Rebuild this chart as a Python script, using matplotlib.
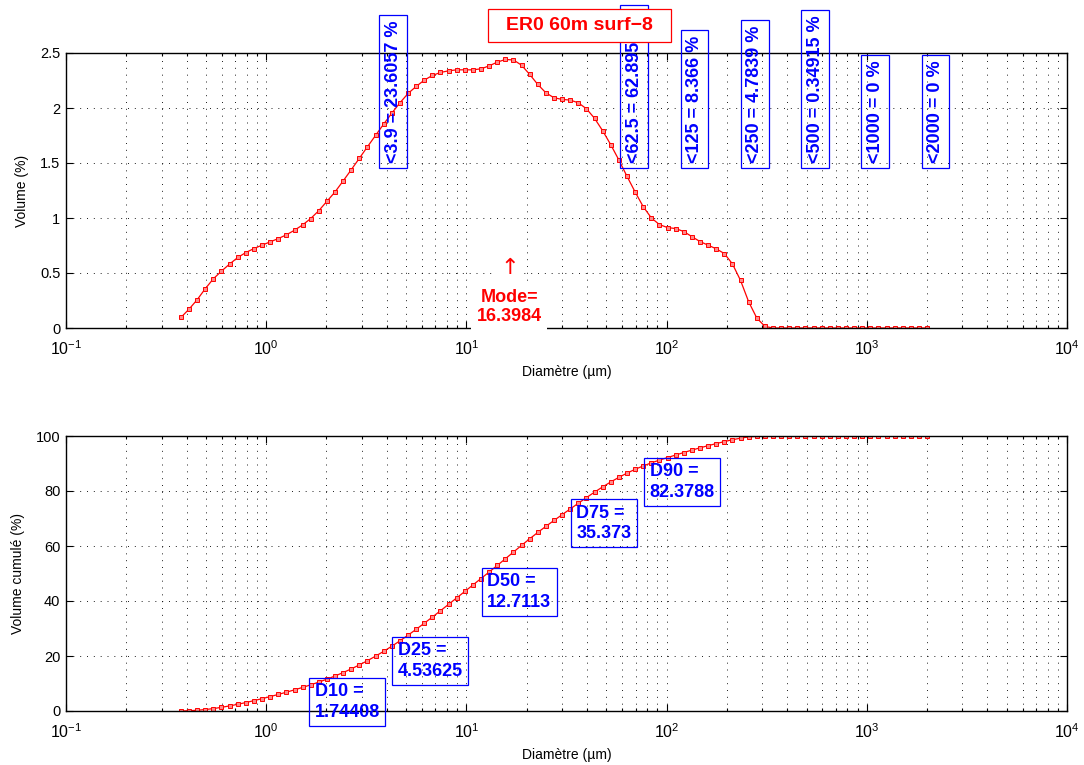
import numpy as np
import matplotlib
matplotlib.use("Agg")
import matplotlib.pyplot as plt
from matplotlib.patches import Rectangle
from matplotlib.ticker import LogLocator, FormatStrFormatter

plt.rcParams['font.family'] = ['Liberation Sans', 'DejaVu Sans']
plt.rcParams['mathtext.fontset'] = 'custom'
plt.rcParams['mathtext.rm'] = 'Liberation Sans'
plt.rcParams['mathtext.it'] = 'Liberation Sans:italic'
plt.rcParams['mathtext.bf'] = 'Liberation Sans:bold'

# --- data ------------------------------------------------------------------
SAMPLE = "ER0 60m surf\u22128"

diam = [0.375, 0.412, 0.452, 0.496, 0.545, 0.598, 0.656, 0.721, 0.791, 0.868,
        0.953, 1.047, 1.149, 1.261, 1.385, 1.520, 1.668, 1.832, 2.011, 2.207,
        2.423, 2.660, 2.920, 3.205, 3.519, 3.863, 4.240, 4.655, 5.110, 5.610,
        6.158, 6.760, 7.421, 8.147, 8.943, 9.818, 10.78, 11.83, 12.99, 14.26,
        15.65, 17.18, 18.86, 20.71, 22.73, 24.95, 27.39, 30.07, 33.01, 36.24,
        39.78, 43.67, 47.94, 52.62, 57.77, 63.41, 69.61, 76.42, 83.89, 92.09,
        101.1, 111.0, 121.8, 133.7, 146.8, 161.2, 176.9, 194.2, 213.2, 234.1,
        256.9, 282.1, 309.6, 339.9, 373.1, 409.6, 449.7, 493.6, 541.9, 594.9,
        653.0, 716.9, 786.9, 863.9, 948.3, 1041, 1143, 1255, 1377, 1512,
        1660, 1822, 2000]

volume = [0.096, 0.172, 0.257, 0.357, 0.448, 0.517, 0.581, 0.641, 0.686, 0.722,
          0.753, 0.783, 0.813, 0.847, 0.889, 0.937, 0.995, 1.067, 1.152, 1.237,
          1.337, 1.439, 1.543, 1.648, 1.751, 1.854, 1.953, 2.047, 2.132, 2.196,
          2.253, 2.296, 2.323, 2.338, 2.347, 2.347, 2.347, 2.356, 2.383, 2.417,
          2.441, 2.437, 2.389, 2.305, 2.214, 2.138, 2.093, 2.078, 2.072, 2.047,
          1.993, 1.906, 1.793, 1.666, 1.527, 1.379, 1.237, 1.103, 1.001, 0.940,
          0.913, 0.904, 0.877, 0.831, 0.786, 0.753, 0.720, 0.677, 0.583, 0.432,
          0.239, 0.091, 0.015, 0, 0, 0, 0, 0, 0, 0,
          0, 0, 0, 0, 0, 0, 0, 0, 0, 0,
          0, 0, 0]

class_limits = [3.9, 62.5, 125, 250, 500, 1000, 2000]
class_labels = ["<3.9 = 23.6057 %", "<62.5 = 62.8953 %", "<125 = 8.366 %",
                "<250 = 4.7839 %", "<500 = 0.34915 %", "<1000 = 0 %", "<2000 = 0 %"]

mode_value = 16.3984
d_pcts = [10, 25, 50, 75, 90]
d_values = [1.74408, 4.53625, 12.7113, 35.373, 82.3788]
d_labels = ["1.74408", "4.53625", "12.7113", "35.373", "82.3788"]

# cumulative volume (% finer than each channel's lower edge)
vol = np.array(volume)
cumul = np.concatenate([[0.0], np.cumsum(vol)[:-1]])
cumul = cumul / vol.sum() * 100

# --- figure -----------------------------------------------------------------
W, H = 1084, 765
fig = plt.figure(figsize=(W / 100, H / 100), dpi=100, facecolor='white')


def px_axes(x0, y0, x1, y1):
    return fig.add_axes([x0 / W, 1 - y1 / H, (x1 - x0) / W, (y1 - y0) / H])


def style_axes(ax, ylim, yticks):
    ax.set_xscale('log')
    ax.set_xlim(1e-1, 1e4)
    ax.set_ylim(*ylim)
    ax.set_yticks(yticks)
    ax.yaxis.set_major_formatter(FormatStrFormatter('%g'))
    ax.xaxis.set_major_locator(LogLocator(base=10, numticks=10))
    ax.xaxis.set_minor_locator(LogLocator(base=10, subs=np.arange(2, 10), numticks=20))
    ax.tick_params(which='both', direction='in', top=True, right=True, width=0.8)
    ax.tick_params(which='major', length=5)
    ax.tick_params(which='minor', length=2.5)
    ax.tick_params(axis='x', labelsize=11.5, pad=8)
    ax.tick_params(axis='y', labelsize=10.5, pad=4)
    ax.grid(True, which='major', ls=(0, (1.2, 7)), color='k', lw=0.6)
    ax.grid(True, which='minor', axis='x', ls=(0, (1.2, 7)), color='k', lw=0.6)
    for s in ax.spines.values():
        s.set_linewidth(1.0)
    ax.set_xlabel("Diamètre (µm)", fontsize=10, labelpad=5)


line_kw = dict(color='red', lw=0.9, marker='s', ms=3, mfc='#ff8a8a', mec='red', mew=0.7)

# top: volume distribution
ax1 = px_axes(66, 53, 1067, 328)
style_axes(ax1, (0, 2.5), [0, 0.5, 1, 1.5, 2, 2.5])
ax1.plot(diam, volume, **line_kw)
ax1.set_ylabel("Volume (%)", fontsize=10, labelpad=8)

for lim, lab in zip(class_limits, class_labels):
    ax1.text(lim, 1.5, lab, rotation=90, ha='left', va='bottom', color='blue',
             fontsize=13, fontweight='bold', clip_on=False,
             bbox=dict(boxstyle='square,pad=0.3', fc='none', ec='blue', lw=0.9))

ax1.text(mode_value, 0.03, "Mode=\n" + f"{mode_value:g}", ha='center', va='bottom',
         color='red', fontsize=13, fontweight='bold', linespacing=1.1, zorder=5,
         bbox=dict(boxstyle='square,pad=0.3', fc='white', ec='none'))
ax1.text(mode_value, 0.55, "\u2191", ha='center', va='center', color='red',
         fontsize=16, family=['DejaVu Sans'], zorder=5,
         bbox=dict(boxstyle='square,pad=0.15', fc='white', ec='none'))

# sample name box, drawn above the class labels
fig.text(579.5 / W, 1 - 26 / H, SAMPLE, ha='center', va='center', color='red',
         fontsize=14, fontweight='bold', zorder=11)
fig.patches.append(Rectangle((488 / W, 1 - 42 / H), 183 / W, 33 / H, zorder=10,
                             transform=fig.transFigure, fc='white', ec='red', lw=0.9))

# bottom: cumulative
ax2 = px_axes(66, 436, 1067, 711)
style_axes(ax2, (0, 100), [0, 20, 40, 60, 80, 100])
ax2.plot(diam, cumul, **line_kw)
ax2.set_ylabel("Volume cumulé (%)", fontsize=10, labelpad=8)

for p, dv, dl in zip(d_pcts, d_values, d_labels):
    ax2.text(dv, p, f"D{p} =\n{dl}", ha='left', va='top', color='blue',
             fontsize=13, fontweight='bold', linespacing=1.25, clip_on=False, zorder=5,
             bbox=dict(boxstyle='square,pad=0.3', fc='none', ec='blue', lw=0.9))

fig.savefig("out.png", dpi=100, facecolor='white')
